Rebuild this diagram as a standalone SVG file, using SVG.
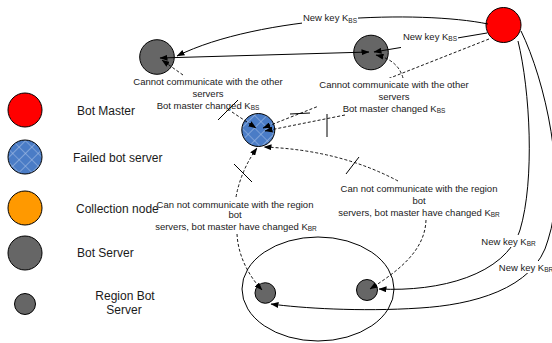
<svg xmlns="http://www.w3.org/2000/svg" width="552" height="343" viewBox="0 0 552 343">
<style>
text{font-family:"Liberation Sans",Arial,sans-serif;fill:#1a1a1a}
.lg{font-size:12px}
.lb{font-size:9.5px;text-anchor:middle}
.sub{font-size:6.5px}
.node{stroke:#000;stroke-width:1}
.red{fill:#ff0000}
.gray{fill:#666666}
.orange{fill:#ff9900}
.solid{fill:none;stroke:#000;stroke-width:1}
.dash{fill:none;stroke:#000;stroke-width:0.9;stroke-dasharray:3,2}
.cut{fill:none;stroke:#000;stroke-width:1}
.bg{fill:#fff}
</style>
<defs>
<marker id="arr" viewBox="0 0 8 6" refX="7.5" refY="3" markerWidth="8" markerHeight="6" markerUnits="userSpaceOnUse" orient="auto-start-reverse">
<path d="M0,0 L8,3 L0,6 z" fill="#000"/>
</marker>
<pattern id="hatch" width="9" height="9" patternUnits="userSpaceOnUse" patternTransform="rotate(45)">
<rect width="9" height="9" fill="#4a7cc6"/>
<path d="M0,0 H9 M0,0 V9" stroke="#a8c0e6" stroke-width="1.2"/>
</pattern>
</defs>

<!-- legend -->
<g id="legend-bot-master"><circle class="node red" cx="25" cy="110" r="17"/><text class="lg" x="77" y="114.5">Bot  Master</text></g>
<g id="legend-failed"><circle class="node" fill="url(#hatch)" cx="25" cy="157" r="17"/><text class="lg" x="73" y="161.5">Failed bot server</text></g>
<g id="legend-collection"><circle class="node orange" cx="25" cy="208" r="17"/><text class="lg" x="76" y="212.5">Collection node</text></g>
<g id="legend-bot-server"><circle class="node gray" cx="25" cy="253" r="17"/><text class="lg" x="77" y="257">Bot  Server</text></g>
<g id="legend-region"><circle class="node gray" cx="25" cy="304" r="10.5"/><text class="lg" x="125" y="300" text-anchor="middle">Region Bot</text><text class="lg" x="124" y="313.5" text-anchor="middle">Server</text></g>

<!-- region ellipse -->
<g id="region"><ellipse cx="318" cy="289" rx="76" ry="52" fill="none" stroke="#000" stroke-width="1"/></g>

<!-- nodes -->
<g id="bot-master"><circle class="node red" cx="503.5" cy="25" r="17.5"/></g>
<g id="bot-server-1"><circle class="node gray" cx="157" cy="57" r="17.3"/></g>
<g id="bot-server-2"><circle class="node gray" cx="371" cy="52.5" r="17.3"/></g>
<g id="failed-server"><circle class="node" fill="url(#hatch)" cx="258.3" cy="130" r="16.5"/></g>
<g id="region-server-1"><circle class="node gray" cx="265.3" cy="293" r="10.3"/></g>
<g id="region-server-2"><circle class="node gray" cx="367" cy="290" r="10.5"/></g>

<!-- connectors -->
<g id="connectors">
<path class="solid" d="M488,24 C420,10 260,15 177,56" marker-end="url(#arr)"/>
<path class="solid" d="M160,58 L369,52" marker-start="url(#arr)" marker-end="url(#arr)"/>
<path class="solid" d="M487,33 L374,52" marker-end="url(#arr)"/>
<path class="dash" d="M489,39 L263,128" marker-end="url(#arr)"/>
<path class="dash" d="M345,115 L265,131" marker-end="url(#arr)"/>
<path class="dash" d="M403,78 Q398,60 376,55" marker-end="url(#arr)"/>
<path class="dash" d="M183,75 L162,60" marker-end="url(#arr)"/>
<path class="dash" d="M232,112 L256,128" marker-end="url(#arr)"/>
<path class="dash" d="M236,197 Q241,170 257,148" marker-end="url(#arr)"/>
<path class="dash" d="M237,234 C238,255 248,275 262,290" marker-end="url(#arr)"/>
<path class="dash" d="M398,181 Q340,150 264,147" marker-end="url(#arr)"/>
<path class="dash" d="M426,220 C425,250 400,270 370,289" marker-end="url(#arr)"/>
<path class="solid" d="M518,41 C530,90 535,180 520,230 C505,275 440,292 379,289" marker-end="url(#arr)"/>
<path class="solid" d="M521,31 C545,80 568,180 548,240 C535,290 470,305 420,308 C360,312 300,308 271,304" marker-end="url(#arr)"/>
<!-- cut marks -->
<path class="cut" d="M218,120 L238,100"/>
<path class="cut" d="M290,114 L310,113"/>
<path class="cut" d="M327,113 L327,137"/>
<path class="cut" d="M234,164 L252,182"/>
<path class="cut" d="M346,174 L359,157"/>
</g>

<!-- labels -->
<g id="label-newkey-1"><rect class="bg" x="302" y="11" width="56" height="13"/><text class="lb" x="330" y="21">New key K<tspan class="sub" dy="1.5">BS</tspan></text></g>
<g id="label-newkey-2"><rect class="bg" x="401" y="29" width="57" height="19"/><text class="lb" x="430" y="39.5">New key K<tspan class="sub" dy="1.5">BS</tspan></text></g>
<g id="label-cannot-1">
<text class="lb" x="208" y="85">Cannot communicate with the other</text>
<text class="lb" x="208" y="96.5">servers</text>
<text class="lb" x="208" y="108.5">Bot master changed K<tspan class="sub" dy="1.5">BS</tspan></text></g>
<g id="label-cannot-2"><rect class="bg" x="318" y="78" width="152" height="36"/>
<text class="lb" x="394" y="87.7">Cannot communicate with the other</text>
<text class="lb" x="394" y="100">servers</text>
<text class="lb" x="394" y="111.7">Bot master changed K<tspan class="sub" dy="1.5">BS</tspan></text></g>
<g id="label-region-1">
<text class="lb" x="235" y="207.5">Can not communicate with the region</text>
<text class="lb" x="235" y="218">bot</text>
<text class="lb" x="236" y="229.5">servers, bot master have changed K<tspan class="sub" dy="1.5">BR</tspan></text></g>
<g id="label-region-2">
<text class="lb" x="419" y="192">Can not communicate with the region</text>
<text class="lb" x="419" y="203.5">bot</text>
<text class="lb" x="419" y="215.5">servers, bot master have changed K<tspan class="sub" dy="1.5">BR</tspan></text></g>
<g id="label-newkey-3"><rect class="bg" x="480" y="235" width="57" height="12"/><text class="lb" x="508.5" y="244.5">New key K<tspan class="sub" dy="1.5">BR</tspan></text></g>
<g id="label-newkey-4"><rect class="bg" x="498" y="261" width="54" height="12"/><text class="lb" x="526" y="270.5">New key K<tspan class="sub" dy="1.5">BR</tspan></text></g>
</svg>
